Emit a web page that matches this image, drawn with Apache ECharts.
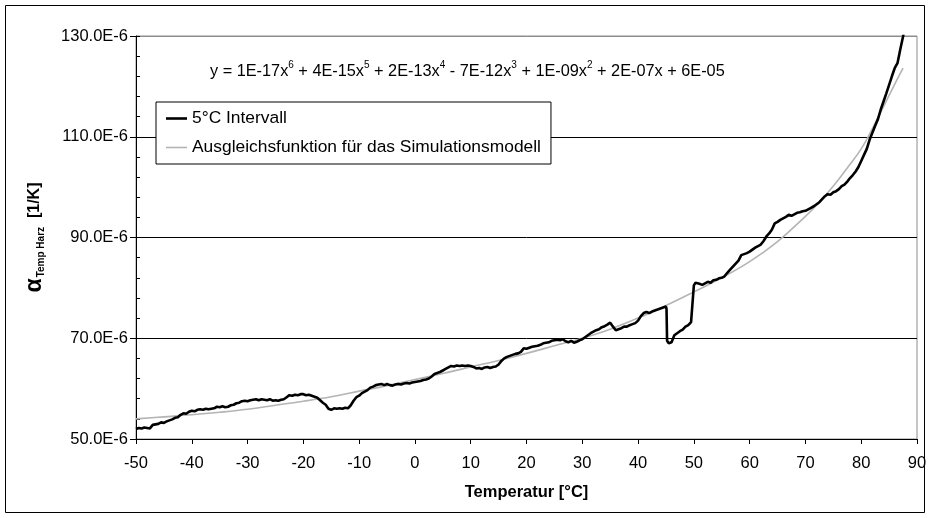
<!DOCTYPE html>
<html>
<head>
<meta charset="utf-8">
<script src="https://cdn.jsdelivr.net/npm/echarts@6/dist/echarts.min.js"></script>
<style>
  html, body { margin: 0; padding: 0; background: #fff; }
  #chart { width: 930px; height: 518px; }
</style>
</head>
<body>
<div id="chart"></div>
<script>
// Measured expansion coefficient (units of 1E-6 1/K) over temperature, 5 °C interval evaluation
const tempMeasured = [
  -50, -49.5, -49, -48.5, -48, -47.5, -47, -46.5, -46, -45.5, -45, -44.5, -44, -43.5, -43, -42.5, -42, -41.5, -41, -40.5,
  -40, -39.5, -39, -38.5, -38, -37.5, -37, -36.5, -36, -35.5, -35, -34.5, -34, -33.5, -33, -32.5, -32, -31.5, -31, -30.5,
  -30, -29.5, -29, -28.5, -28, -27.5, -27, -26.5, -26, -25.5, -25, -24.5, -24, -23.5, -23, -22.5, -22, -21.5, -21, -20.5,
  -20, -19.5, -19, -18.5, -18, -17.5, -17, -16.5, -16, -15.5, -15, -14.5, -14, -13.5, -13, -12.5, -12, -11.5, -11, -10.5,
  -10, -9.5, -9, -8.5, -8, -7.5, -7, -6.5, -6, -5.5, -5, -4.5, -4, -3.5, -3, -2.5, -2, -1.5, -1, -0.5,
  0, 0.5, 1, 1.5, 2, 2.5, 3, 3.5, 4, 4.5, 5, 5.5, 6, 6.5, 7, 7.5, 8, 8.5, 9, 9.5,
  10, 10.5, 11, 11.5, 12, 12.5, 13, 13.5, 14, 14.5, 15, 15.5, 16, 16.5, 17, 17.5, 18, 18.5, 19, 19.5,
  20, 20.5, 21, 21.5, 22, 22.5, 23, 23.5, 24, 24.5, 25, 25.5, 26, 26.5, 27, 27.5, 28, 28.5, 29, 29.5,
  30, 30.5, 31, 31.5, 32, 32.5, 33, 33.5, 34, 34.5, 35, 35.5, 36, 36.5, 37, 37.5, 38, 38.5, 39, 39.5,
  40, 40.5, 41, 41.5, 42, 42.5, 43, 43.5, 44, 44.5, 45, 45.1, 45.2, 45.5, 46, 46.5, 47, 47.5, 48, 48.5, 49, 49.5, 49.8,
  50, 50.3, 50.5, 51, 51.5, 52, 52.5, 53, 53.5, 54, 54.5, 55, 55.5, 56, 56.5, 57, 57.5, 58, 58.5, 59, 59.5,
  60, 60.5, 61, 61.5, 62, 62.5, 63, 63.5, 64, 64.5, 65, 65.5, 66, 66.5, 67, 67.5, 68, 68.5, 69, 69.5,
  70, 70.5, 71, 71.5, 72, 72.5, 73, 73.5, 74, 74.5, 75, 75.5, 76, 76.5, 77, 77.5, 78, 78.5, 79, 79.5,
  80, 80.5, 81, 81.5, 82, 82.5, 83, 83.5, 84, 84.5, 85, 85.5, 86, 86.5, 87, 87.5, 87.6
];
const alphaMeasured = [
  52.0, 52.2, 52.1, 52.3, 52.2, 52.1, 52.8, 52.9, 53.0, 53.3, 53.2, 53.5, 53.7, 53.9, 54.2, 54.3, 54.8, 55.1, 55.0, 55.4,
  55.6, 55.5, 55.8, 55.9, 55.8, 56.0, 55.9, 56.0, 56.1, 56.4, 56.3, 56.5, 56.3, 56.4, 56.7, 56.8, 57.1, 57.2, 57.5, 57.6,
  57.5, 57.7, 57.8, 57.9, 57.7, 57.9, 57.8, 57.7, 57.9, 57.6, 57.7, 57.6, 57.8, 57.9, 58.3, 58.7, 58.6, 58.8, 58.7, 58.9,
  58.9, 58.7, 58.8, 58.6, 58.4, 58.2, 57.7, 57.2, 56.8, 56.0, 55.8, 56.1, 56.0, 56.1, 56.0, 56.2, 56.1, 56.7, 57.6, 58.3,
  58.6, 59.1, 59.4, 59.7, 60.2, 60.4, 60.7, 60.8, 60.9, 60.7, 60.9, 60.7, 60.6, 60.8, 60.9, 60.8, 61.0, 61.1, 61.0, 61.2,
  61.3, 61.4, 61.5, 61.7, 61.8, 62.0, 62.4, 62.9, 63.1, 63.3, 63.6, 63.9, 64.2, 64.5, 64.4, 64.6, 64.5, 64.6, 64.5, 64.6,
  64.5, 64.3, 64.0, 64.1, 63.9, 64.2, 64.3, 64.1, 64.3, 64.4, 64.8, 65.5, 66.0, 66.3, 66.5, 66.7, 66.9, 67.0, 67.3, 68.0,
  67.9, 68.1, 68.3, 68.4, 68.5, 68.7, 69.0, 69.1, 69.2, 69.5, 69.6, 69.7, 69.6, 69.8, 69.4, 69.2, 69.5, 69.1, 69.3, 69.6,
  69.8, 70.2, 70.6, 71.0, 71.3, 71.6, 71.8, 72.2, 72.4, 72.7, 73.1, 72.3, 71.6, 71.8, 72.0, 72.3, 72.3, 72.6, 72.8, 73.0,
  73.5, 74.4, 75.0, 75.2, 75.0, 75.3, 75.5, 75.7, 75.9, 76.1, 76.3, 75.8, 69.5, 69.0, 69.2, 70.6, 71.0, 71.4, 71.7, 72.3, 72.6, 73.2, 73.3,
  80.5, 81.0, 80.9, 80.8, 80.6, 80.9, 81.2, 81.0, 81.5, 81.6, 81.9, 82.0, 82.3, 83.0, 83.6, 84.2, 84.8, 85.4, 86.5, 86.7, 86.9,
  87.2, 87.6, 88.0, 88.3, 88.6, 89.3, 90.2, 90.8, 91.6, 92.8, 93.1, 93.5, 93.8, 94.1, 94.5, 94.3, 94.6, 94.9, 95.0, 95.2,
  95.3, 95.6, 95.9, 96.2, 96.6, 97.0, 97.6, 98.2, 98.6, 98.5, 99.0, 99.2, 99.6, 100.2, 100.5, 101.1, 101.8, 102.4, 103.1, 104.0,
  105.2, 106.4, 107.6, 109.4, 110.8, 112.2, 113.5, 115.4, 117.0, 118.6, 120.3, 122.0, 123.6, 124.6, 127.3, 129.9, 130.5
];

// Fitted polynomial curve used in the simulation model (units of 1E-6 1/K)
const tempFit = [-50, -45, -40, -35, -30, -25, -20, -15, -10, -5, 0, 5, 10, 15, 20, 25, 30, 35, 40, 45,
  50, 55, 60, 65, 70, 72.5, 75, 77.5, 80, 82, 84, 86, 87.5];
const alphaFit = [54.0, 54.4, 54.8, 55.3, 55.9, 56.7, 57.5, 58.4, 59.5, 60.6, 61.8, 63.0, 64.3, 65.6, 67.0, 68.5, 70.0, 71.8, 74.0, 76.5,
  79.2, 82.0, 85.2, 89.2, 94.2, 97.0, 100.2, 103.8, 107.6, 111.6, 116.0, 120.4, 123.6];

const xTicks = { min: -50, max: 90, step: 10 };
const yTicks = { min: 50, max: 130, step: 20 };

const seriesNames = ['5°C Intervall', 'Ausgleichsfunktion für das Simulationsmodell'];
const equationParts = ['y = 1E-17x', '6', ' + 4E-15x', '5', ' + 2E-13x', '4', ' - 7E-12x', '3', ' + 1E-09x', '2', ' + 2E-07x + 6E-05'];

const FONT = '"Liberation Sans", Arial, sans-serif';

const zip = (xs, ys) => xs.map((x, i) => [x, ys[i]]);

// Build rich text for the equation: odd entries are exponents
const equationText = equationParts.map((p, i) => (i % 2 === 1 ? '{sup|' + p + '}' : '{n|' + p + '}')).join('');

const chart = echarts.init(document.getElementById('chart'), null, { renderer: 'canvas' });

chart.setOption({
  animation: false,
  backgroundColor: '#fff',
  textStyle: { fontFamily: FONT, color: '#000' },
  grid: {
    left: 136, right: 13, top: 36, bottom: 79,
    show: true, borderColor: '#8c8c8c', borderWidth: 1, backgroundColor: 'transparent'
  },
  legend: {
    orient: 'vertical',
    left: 156, top: 102,
    padding: [8, 10, 8, 10],
    itemGap: 12,
    itemWidth: 21, itemHeight: 14,
    backgroundColor: '#fff',
    borderColor: '#000', borderWidth: 1,
    textStyle: { fontFamily: FONT, fontSize: 17.4, color: '#000', padding: [0, 0, 0, 0] },
    data: [
      { name: seriesNames[0], icon: 'path://M0,0H21V2.6H0Z' },
      { name: seriesNames[1], icon: 'path://M0,0H21V1.6H0Z' }
    ]
  },
  xAxis: {
    type: 'value',
    min: xTicks.min, max: xTicks.max, interval: xTicks.step,
    name: 'Temperatur [°C]',
    nameLocation: 'middle',
    nameGap: 45,
    nameTextStyle: { fontFamily: FONT, fontSize: 16.5, fontWeight: 'bold', color: '#000' },
    axisLine: { onZero: false, lineStyle: { color: '#000', width: 1 } },
    axisTick: { show: true, inside: false, length: 5, lineStyle: { color: '#000' } },
    axisLabel: { fontFamily: FONT, fontSize: 16.5, color: '#000', margin: 16 },
    splitLine: { show: false }
  },
  yAxis: [
    {
      type: 'value',
      min: yTicks.min, max: yTicks.max, interval: yTicks.step,
      name: '{a|α}{s|Temp Harz}{u|  [1/K]}',
      nameLocation: 'middle',
      nameGap: 90,
      nameRotate: 90,
      nameTextStyle: {
        rich: {
          a: { fontFamily: FONT, fontSize: 23, fontWeight: 'bold', color: '#000' },
          s: { fontFamily: FONT, fontSize: 10, fontWeight: 'bold', color: '#000', verticalAlign: 'bottom', padding: [6, 0, 0, 1] },
          u: { fontFamily: FONT, fontSize: 16, fontWeight: 'bold', color: '#000' }
        }
      },
      axisLine: { show: true, onZero: false, lineStyle: { color: '#000', width: 1 } },
      axisTick: { show: true, inside: false, length: 6, lineStyle: { color: '#000' } },
      axisLabel: {
        fontFamily: FONT, fontSize: 16.5, color: '#000', margin: 8,
        formatter: v => v.toFixed(1) + 'E-6'
      },
      splitLine: { show: true, lineStyle: { color: ['#000', '#000', '#000', '#000', '#8c8c8c'], width: 1 } }
    },
    {
      // inner minor ticks on the value axis
      type: 'value',
      position: 'left',
      min: yTicks.min, max: yTicks.max, interval: yTicks.step,
      axisLine: { show: false, onZero: false },
      axisTick: { show: true, inside: true, length: 4, lineStyle: { color: '#000' } },
      minorTick: { show: true, splitNumber: 5, length: 4, lineStyle: { color: '#000' } },
      axisLabel: { show: false },
      splitLine: { show: false }
    }
  ],
  graphic: [
    {
      type: 'rect',
      silent: true,
      shape: { x: 5.5, y: 5.5, width: 919, height: 507 },
      style: { fill: 'none', stroke: '#000', lineWidth: 1 }
    },
    {
      type: 'text',
      silent: true,
      x: 210, y: 70,
      style: {
        text: equationText,
        verticalAlign: 'middle',
        rich: {
          n: { fontFamily: FONT, fontSize: 16.3, fill: '#000', lineHeight: 20, verticalAlign: 'bottom' },
          sup: { fontFamily: FONT, fontSize: 10, fill: '#000', lineHeight: 20, verticalAlign: 'top' }
        }
      }
    }
  ],
  series: [
    {
      name: seriesNames[0],
      type: 'line',
      data: zip(tempMeasured, alphaMeasured),
      showSymbol: false,
      symbol: 'none',
      clip: true,
      lineStyle: { color: '#000', width: 2.6 },
      itemStyle: { color: '#000' },
      z: 3
    },
    {
      name: seriesNames[1],
      type: 'line',
      data: zip(tempFit, alphaFit),
      showSymbol: false,
      symbol: 'none',
      smooth: 0.4,
      lineStyle: { color: '#b4b4b4', width: 1.6 },
      itemStyle: { color: '#b4b4b4' },
      z: 2
    }
  ]
});
</script>
</body>
</html>
